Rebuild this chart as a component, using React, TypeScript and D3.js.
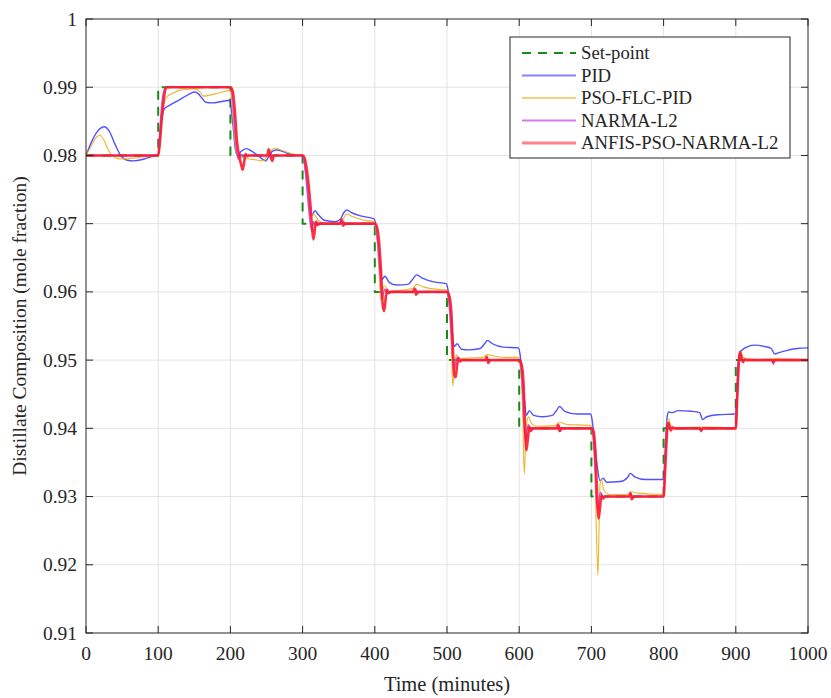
import React from "react";
import * as d3 from "d3";

type Pt = [number, number];

// Time axis ticks (minutes) and composition ticks
const X_TICKS = [0, 100, 200, 300, 400, 500, 600, 700, 800, 900, 1000];
const Y_TICKS = [0.91, 0.92, 0.93, 0.94, 0.95, 0.96, 0.97, 0.98, 0.99, 1];

// Set-point schedule (step held from each time until the next)
const SETPOINT_T = [0, 100, 200, 300, 400, 500, 600, 700, 800, 900, 1000];
const SETPOINT_V = [0.98, 0.99, 0.98, 0.97, 0.96, 0.95, 0.94, 0.93, 0.94, 0.95, 0.95];

// PID response
const PID: Pt[] = [
  [0, 0.98], [10, 0.9825], [18, 0.9838], [25, 0.9842], [32, 0.9836], [40, 0.9817], [48, 0.98], [57, 0.9793], [66, 0.9792], [78, 0.9794], [90, 0.9798], [100, 0.98],
  [103, 0.9835], [106, 0.986], [109, 0.9869], [115, 0.9873], [125, 0.9879], [135, 0.9885], [145, 0.9891], [150, 0.9893], [155, 0.9891], [160, 0.9885], [166, 0.9878], [175, 0.9877], [188, 0.9879], [199, 0.9881],
  [201, 0.987], [204, 0.984], [207, 0.9808], [210, 0.98], [215, 0.9806], [222, 0.981], [230, 0.9806], [238, 0.98], [244, 0.9795], [249, 0.9792], [253, 0.9798], [258, 0.9806], [264, 0.9808], [272, 0.9806], [285, 0.9801], [299, 0.98],
  [301, 0.9795], [304, 0.978], [307, 0.9752], [310, 0.9722], [313, 0.9712], [317, 0.9719], [322, 0.9713], [330, 0.9705], [345, 0.9703], [352, 0.9706], [357, 0.9716], [361, 0.972], [368, 0.9716], [382, 0.9711], [399, 0.9707],
  [401, 0.97], [404, 0.9675], [407, 0.964], [410, 0.9618], [414, 0.9623], [420, 0.9614], [430, 0.961], [446, 0.9611], [452, 0.9618], [458, 0.9625], [466, 0.962], [480, 0.9615], [499, 0.9612],
  [501, 0.9605], [504, 0.958], [507, 0.9545], [510, 0.952], [514, 0.9524], [520, 0.9516], [530, 0.9515], [546, 0.9517], [552, 0.9524], [556, 0.9529], [563, 0.9524], [578, 0.9519], [599, 0.9518],
  [601, 0.951], [604, 0.948], [607, 0.9445], [610, 0.9419], [614, 0.9426], [620, 0.9419], [632, 0.9417], [646, 0.9419], [651, 0.9425], [656, 0.9432], [663, 0.9425], [680, 0.9421], [699, 0.9421],
  [701, 0.9412], [704, 0.9385], [708, 0.9345], [712, 0.9323], [716, 0.9327], [721, 0.9321], [740, 0.9322], [750, 0.9328], [754, 0.9334], [760, 0.9329], [775, 0.9325], [799, 0.9325],
  [801, 0.934], [803, 0.9385], [805, 0.9418], [807, 0.9424], [812, 0.9423], [820, 0.9426], [838, 0.9425], [850, 0.9423], [854, 0.9413], [860, 0.9417], [875, 0.942], [899, 0.9421],
  [901, 0.944], [903, 0.949], [905, 0.951], [908, 0.9514], [915, 0.9519], [925, 0.9522], [940, 0.952], [949, 0.9517], [954, 0.9509], [960, 0.9511], [970, 0.9514], [985, 0.9517], [1000, 0.9518],
];

// PSO-FLC-PID response
const PSO_FLC_PID: Pt[] = [
  [0, 0.98], [8, 0.9815], [14, 0.9826], [19, 0.983], [25, 0.9822], [30, 0.981], [36, 0.98], [45, 0.9795], [57, 0.9795], [72, 0.9797], [86, 0.9799], [100, 0.98],
  [103, 0.984], [106, 0.9866], [109, 0.988], [113, 0.9887], [120, 0.9891], [128, 0.9895], [140, 0.9897], [150, 0.9898], [157, 0.9894], [163, 0.9887], [170, 0.9888], [185, 0.9892], [199, 0.9895],
  [201, 0.9888], [204, 0.985], [207, 0.9812], [210, 0.9799], [220, 0.9796], [232, 0.9794], [245, 0.9792], [251, 0.9799], [257, 0.9808], [262, 0.9811], [270, 0.9808], [281, 0.9804], [292, 0.9801], [300, 0.98],
  [302, 0.979], [305, 0.9765], [308, 0.9735], [310, 0.9712], [315, 0.9714], [322, 0.9705], [332, 0.97], [350, 0.97], [356, 0.9707], [361, 0.9714], [370, 0.971], [385, 0.9705], [399, 0.9703],
  [401, 0.9695], [404, 0.9665], [406, 0.9625], [408, 0.9588], [410, 0.9598], [413, 0.9609], [420, 0.9601], [440, 0.9603], [452, 0.9605], [458, 0.9611], [468, 0.9607], [485, 0.9604], [499, 0.9603],
  [501, 0.9595], [504, 0.9565], [506, 0.952], [508, 0.9462], [510, 0.9488], [513, 0.9508], [517, 0.9502], [530, 0.9503], [550, 0.9504], [556, 0.9508], [565, 0.9506], [580, 0.9504], [599, 0.9504],
  [601, 0.9495], [603, 0.947], [605, 0.9415], [607, 0.9333], [609, 0.9382], [611, 0.9412], [613, 0.9417], [617, 0.9407], [625, 0.9403], [650, 0.9404], [656, 0.9409], [665, 0.9406], [699, 0.9404],
  [701, 0.9395], [703, 0.9375], [705, 0.933], [707, 0.9245], [709, 0.9185], [710.5, 0.925], [712, 0.9318], [714, 0.9325], [717, 0.931], [725, 0.9303], [750, 0.9303], [755, 0.9307], [765, 0.9305], [799, 0.9303],
  [801, 0.9325], [803, 0.9375], [805, 0.941], [807, 0.9414], [810, 0.9404], [820, 0.9401], [855, 0.9402], [899, 0.9401],
  [901, 0.9425], [903, 0.9475], [905, 0.951], [907, 0.9512], [911, 0.9503], [930, 0.9501], [955, 0.9502], [1000, 0.9501],
];

// NARMA-L2 response
const NARMA_L2: Pt[] = [
  [0, 0.98], [100, 0.98], [102, 0.983], [104, 0.9862], [106, 0.9884], [108, 0.9895], [111, 0.99], [200, 0.99],
  [202, 0.9893], [205, 0.9855], [208, 0.9812], [211, 0.9794], [214, 0.9802], [217, 0.9799], [220, 0.98], [254, 0.98], [256, 0.9804], [258, 0.9797], [260, 0.98], [300, 0.98],
  [302, 0.9793], [305, 0.9765], [308, 0.9728], [311, 0.9698], [313, 0.969], [315, 0.9703], [318, 0.9698], [321, 0.97], [355, 0.97], [357, 0.9703], [359, 0.9698], [361, 0.97], [400, 0.97],
  [402, 0.9693], [405, 0.966], [408, 0.9615], [410, 0.959], [412, 0.9598], [414, 0.9604], [417, 0.9599], [420, 0.96], [455, 0.96], [457, 0.9604], [459, 0.9597], [461, 0.96], [500, 0.96],
  [502, 0.9592], [505, 0.9555], [508, 0.9505], [510, 0.9485], [512, 0.9498], [514, 0.9504], [517, 0.9499], [520, 0.95], [554, 0.95], [556, 0.9503], [558, 0.9497], [560, 0.95], [600, 0.95],
  [602, 0.9493], [605, 0.945], [607, 0.94], [609, 0.938], [611, 0.9398], [613, 0.9405], [616, 0.9399], [619, 0.94], [653, 0.94], [655, 0.9404], [657, 0.9396], [659, 0.94], [700, 0.94],
  [702, 0.9393], [705, 0.9345], [707, 0.9295], [709, 0.928], [711, 0.93], [713, 0.9306], [716, 0.9299], [719, 0.93], [753, 0.93], [755, 0.9304], [757, 0.9297], [759, 0.93], [800, 0.93],
  [801, 0.932], [803, 0.937], [805, 0.9405], [807, 0.9409], [809, 0.9401], [812, 0.94], [850, 0.94], [852, 0.9395], [854, 0.94], [900, 0.94],
  [901, 0.942], [903, 0.947], [905, 0.9505], [907, 0.9509], [909, 0.9501], [912, 0.95], [950, 0.95], [952, 0.9494], [954, 0.95], [1000, 0.95],
];

// ANFIS-PSO-NARMA-L2 response
const ANFIS_PSO_NARMA_L2: Pt[] = [
  [0, 0.98], [100, 0.98], [102, 0.9815], [105, 0.9855], [108, 0.9885], [110, 0.9897], [112, 0.99], [200, 0.99],
  [203, 0.9895], [206, 0.9868], [209, 0.9822], [212, 0.98], [215, 0.9786], [217, 0.9779], [219, 0.979], [221, 0.9802], [223, 0.9799], [226, 0.98], [251, 0.98], [253, 0.9809], [255, 0.98], [258, 0.9792], [260, 0.98], [300, 0.98],
  [302, 0.9798], [305, 0.9785], [308, 0.976], [311, 0.9725], [313, 0.9695], [315, 0.9677], [317, 0.9692], [319, 0.9703], [321, 0.9698], [324, 0.97], [352, 0.97], [354, 0.9706], [356, 0.9697], [358, 0.97], [400, 0.97],
  [403, 0.9695], [406, 0.9672], [409, 0.9622], [411, 0.958], [413, 0.9572], [415, 0.959], [417, 0.9603], [419, 0.9598], [422, 0.96], [453, 0.96], [455, 0.9605], [457, 0.9596], [459, 0.96], [500, 0.96],
  [503, 0.9595], [506, 0.957], [508, 0.952], [510, 0.9478], [512, 0.9475], [514, 0.9492], [516, 0.9503], [518, 0.9498], [521, 0.95], [553, 0.95], [555, 0.9505], [557, 0.9496], [559, 0.95], [600, 0.95],
  [603, 0.9495], [606, 0.9465], [608, 0.9405], [610, 0.9368], [612, 0.9385], [614, 0.9402], [616, 0.9396], [619, 0.94], [652, 0.94], [654, 0.9405], [656, 0.9396], [658, 0.94], [700, 0.94],
  [703, 0.9395], [706, 0.9355], [708, 0.93], [710, 0.9268], [712, 0.9285], [714, 0.9302], [716, 0.9297], [719, 0.93], [752, 0.93], [754, 0.9305], [756, 0.9296], [758, 0.93], [800, 0.93],
  [802, 0.9335], [804, 0.938], [806, 0.9408], [808, 0.9403], [810, 0.9397], [812, 0.9401], [815, 0.94], [850, 0.94], [852, 0.9397], [854, 0.94], [900, 0.94],
  [902, 0.9445], [904, 0.9495], [906, 0.9512], [908, 0.9502], [910, 0.9497], [912, 0.9501], [915, 0.95], [950, 0.95], [952, 0.9497], [954, 0.95], [1000, 0.95],
];

const LEGEND_LABELS = ["Set-point", "PID", "PSO-FLC-PID", "NARMA-L2", "ANFIS-PSO-NARMA-L2"];

const W = 831;
const H = 698;
const M = { left: 86, right: 23, top: 19, bottom: 65 };
const FONT = "'Liberation Serif', 'Times New Roman', serif";
const AXIS_COLOR = "#262626";

const SERIES = [
  { data: PID, color: "#3333ff", width: 1.4, opacity: 0.85 },
  { data: PSO_FLC_PID, color: "#edb120", width: 1.1, opacity: 0.95 },
  { data: NARMA_L2, color: "#c040e0", width: 1.6, opacity: 0.85 },
  { data: ANFIS_PSO_NARMA_L2, color: "#ff1a2e", width: 2.6, opacity: 0.9 },
];

export default function App() {
  const iw = W - M.left - M.right;
  const ih = H - M.top - M.bottom;
  const x = d3.scaleLinear().domain([0, 1000]).range([M.left, M.left + iw]);
  const y = d3.scaleLinear().domain([0.91, 1]).range([M.top + ih, M.top]);

  const line = d3
    .line<Pt>()
    .x((d) => x(d[0]))
    .y((d) => y(d[1]))
    .curve(d3.curveMonotoneX);

  const spData: Pt[] = SETPOINT_T.map((t, i) => [t, SETPOINT_V[i]]);
  const spLine = d3
    .line<Pt>()
    .x((d) => x(d[0]))
    .y((d) => y(d[1]))
    .curve(d3.curveStepAfter);

  const x0 = M.left;
  const x1 = M.left + iw;
  const y0 = M.top + ih;
  const y1 = M.top;
  const tickLen = 7;

  const legend = { x: 510, y: 37, w: 280, h: 121, rowH: 22.5, first: 16 };
  const legendStyles = [
    { color: "#1a8a1a", width: 2, dash: "9,7", opacity: 1 },
    { color: "#3333ff", width: 2, dash: undefined, opacity: 0.6 },
    { color: "#edb120", width: 1.4, dash: undefined, opacity: 0.8 },
    { color: "#c040e0", width: 2, dash: undefined, opacity: 0.7 },
    { color: "#ff1a2e", width: 3, dash: undefined, opacity: 0.55 },
  ];

  return (
    <svg
      width={W}
      height={H}
      style={{ position: "absolute", left: 0, top: 0, background: "#fff" }}
      fontFamily={FONT}
    >
      <rect x={0} y={0} width={W} height={H} fill="#fff" />
      {/* grid */}
      <g stroke="#e3e3e3" strokeWidth={1}>
        {X_TICKS.slice(1, -1).map((t) => (
          <line key={"gx" + t} x1={x(t)} x2={x(t)} y1={y0} y2={y1} />
        ))}
        {Y_TICKS.slice(1, -1).map((v) => (
          <line key={"gy" + v} x1={x0} x2={x1} y1={y(v)} y2={y(v)} />
        ))}
      </g>

      <defs>
        <clipPath id="plot-clip">
          <rect x={x0} y={y1} width={iw} height={ih} />
        </clipPath>
      </defs>

      <g clipPath="url(#plot-clip)" fill="none" strokeLinejoin="round" strokeLinecap="round">
        <path d={spLine(spData) || ""} stroke="#1a8a1a" strokeWidth={2} strokeDasharray="9,7" strokeLinecap="butt" />
        {SERIES.map((s, i) => (
          <path
            key={i}
            d={line(s.data) || ""}
            stroke={s.color}
            strokeWidth={s.width}
            strokeOpacity={s.opacity}
          />
        ))}
      </g>

      {/* axes box with inward ticks */}
      <g stroke={AXIS_COLOR} strokeWidth={1} fill="none">
        <rect x={x0} y={y1} width={iw} height={ih} />
        {X_TICKS.map((t) => (
          <g key={"tx" + t}>
            <line x1={x(t)} x2={x(t)} y1={y0} y2={y0 - tickLen} />
            <line x1={x(t)} x2={x(t)} y1={y1} y2={y1 + tickLen} />
          </g>
        ))}
        {Y_TICKS.map((v) => (
          <g key={"ty" + v}>
            <line x1={x0} x2={x0 + tickLen} y1={y(v)} y2={y(v)} />
            <line x1={x1} x2={x1 - tickLen} y1={y(v)} y2={y(v)} />
          </g>
        ))}
      </g>

      {/* tick labels */}
      <g fill={AXIS_COLOR} fontSize={19.5}>
        {X_TICKS.map((t) => (
          <text key={"lx" + t} x={x(t)} y={y0 + 27} textAnchor="middle">
            {t}
          </text>
        ))}
        {Y_TICKS.map((v) => (
          <text key={"ly" + v} x={x0 - 9} y={y(v) + 6.5} textAnchor="end">
            {d3.format("~g")(v)}
          </text>
        ))}
      </g>

      {/* axis titles */}
      <text x={(x0 + x1) / 2} y={y0 + 58} textAnchor="middle" fontSize={20.5} fill={AXIS_COLOR}>
        Time (minutes)
      </text>
      <text
        transform={`translate(26, ${(y0 + y1) / 2}) rotate(-90)`}
        textAnchor="middle"
        fontSize={19.5}
        fill={AXIS_COLOR}
      >
        Distillate Composition (mole fraction)
      </text>

      {/* legend */}
      <g>
        <rect x={legend.x} y={legend.y} width={legend.w} height={legend.h} fill="#fff" stroke={AXIS_COLOR} strokeWidth={1} />
        {LEGEND_LABELS.map((lab, i) => {
          const ly = legend.y + legend.first + i * legend.rowH;
          const st = legendStyles[i];
          return (
            <g key={lab}>
              <line
                x1={legend.x + 12}
                x2={legend.x + 66}
                y1={ly}
                y2={ly}
                stroke={st.color}
                strokeWidth={st.width}
                strokeOpacity={st.opacity}
                strokeDasharray={st.dash}
              />
              <text x={legend.x + 71} y={ly + 6} fontSize={18.7} fill={AXIS_COLOR}>
                {lab}
              </text>
            </g>
          );
        })}
      </g>
    </svg>
  );
}
